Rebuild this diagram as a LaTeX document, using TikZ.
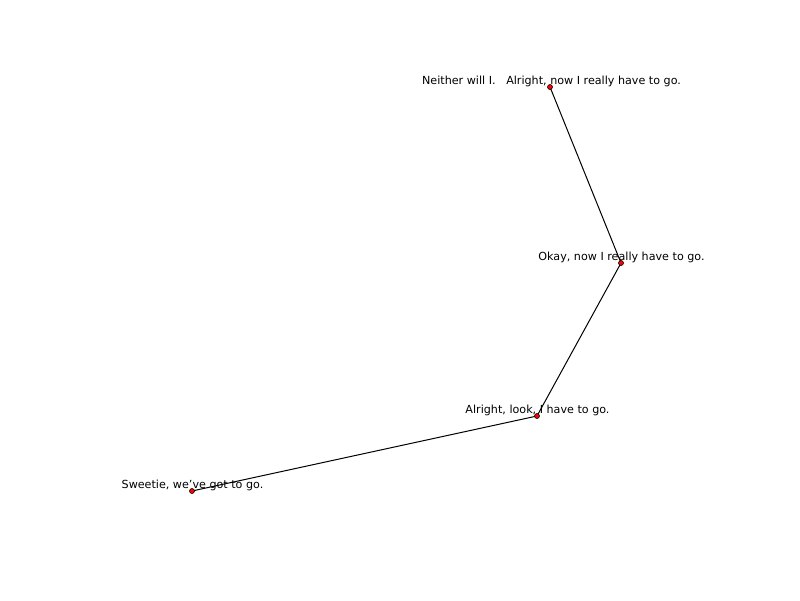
\documentclass[tikz,border=0pt]{standalone}
\usepackage{fontspec}
\setmainfont{DejaVu Sans}
\begin{document}
\begin{tikzpicture}[x=1pt,y=-1pt,
  vertex/.style={circle,fill=red,draw=black,line width=0.6pt,minimum size=5pt,inner sep=0pt},
  caption/.style={anchor=base,inner sep=0pt,font=\fontsize{11.15}{13}\selectfont},
  link/.style={draw=black,line width=1pt}]
\useasboundingbox[fill=white] (0,0) rectangle (800,600);
% vertex positions
\coordinate (pa) at (550,87);
\coordinate (pb) at (621,263);
\coordinate (pc) at (537,416);
\coordinate (pd) at (192,491);
% captions sit beneath the links
\node[caption] (la) at (551.5,84.5) {Neither will I.\ \ \ Alright, now I really have to go.};
\node[caption] (lb) at (621.5,260.5) {Okay, now I really have to go.};
\node[caption] (lc) at (537.5,413.5) {Alright, look, I have to go.};
\node[caption] (ld) at (192.5,488) {Sweetie, we\char"27 ve got to go.};
% links
\draw[link] (pa) -- (pb);
\draw[link] (pb) -- (pc);
\draw[link] (pc) -- (pd);
% vertices
\node[vertex] (a) at (pa) {};
\node[vertex] (b) at (pb) {};
\node[vertex] (c) at (pc) {};
\node[vertex] (d) at (pd) {};
\end{tikzpicture}
\end{document}
